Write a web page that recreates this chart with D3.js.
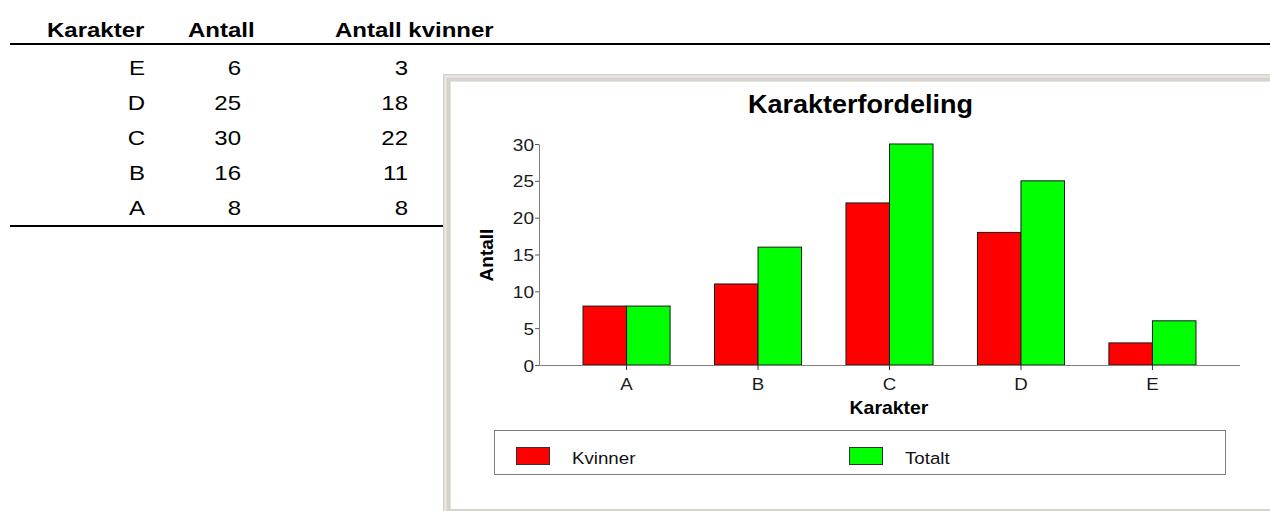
<!DOCTYPE html>
<html>
<head>
<meta charset="utf-8">
<script src="https://cdn.jsdelivr.net/npm/d3@7"></script>
<style>
  body { margin: 0; background: #fff; }
  text { font-family: Arial, "Liberation Sans", sans-serif; }
</style>
</head>
<body>
<div id="drawarea"></div>
<script>
// data
const grades = ["A", "B", "C", "D", "E"];
const totalt = [8, 16, 30, 25, 6];
const kvinner = [8, 11, 22, 18, 3];
const series = ["Kvinner", "Totalt"];
const seriesColors = ["#ff0000", "#00ff00"];
const yTicks = [0, 5, 10, 15, 20, 25, 30];
const tableHeaders = ["Karakter", "Antall", "Antall kvinner"];

let svg = d3.select("div#drawarea").append("svg")
    .attr("width", 1270)
    .attr("height", 511);

// the reference is a bit wider than normal Arial, so text gets a horizontal stretch
function putText(sel, x, y, sx) {
    return sel.attr("transform", "translate(" + x + "," + y + ") scale(" + sx + ",1)");
}

//---- table on the left
let table = svg.append("g");
let headerX = [47, 188, 335];
tableHeaders.forEach((h, i) => {
    putText(table.append("text"), headerX[i], 37, 1.2)
        .attr("font-size", 20)
        .attr("font-weight", "bold")
        .attr("fill", "#000")
        .text(h);
});
table.append("rect").attr("x", 10).attr("y", 43).attr("width", 1260).attr("height", 2).attr("fill", "#000");

let rowData = grades.map((g, i) => ({grade: g, antall: totalt[i], kv: kvinner[i]})).reverse();
let colRight = [145, 241, 408];
rowData.forEach((row, i) => {
    let yy = 74.5 + i * 35.2;
    [row.grade, row.antall, row.kv].forEach((v, j) => {
        putText(table.append("text"), colRight[j], yy, 1.2)
            .attr("font-size", 20)
            .attr("text-anchor", "end")
            .attr("fill", "#000")
            .text(v);
    });
});
table.append("rect").attr("x", 10).attr("y", 225).attr("width", 440).attr("height", 2).attr("fill", "#000");

//---- chart panel with a grey frame
let panel = svg.append("g");
panel.append("rect").attr("x", 443).attr("y", 74).attr("width", 840).attr("height", 450).attr("fill", "#d6d3cc");
panel.append("rect").attr("x", 445.5).attr("y", 76.5).attr("width", 840).attr("height", 450)
    .attr("fill", "none").attr("stroke", "#ebe9e4").attr("stroke-width", 2);
panel.append("rect").attr("x", 450).attr("y", 81).attr("width", 830).attr("height", 428).attr("fill", "#fff");
panel.append("line").attr("x1", 450).attr("x2", 1270).attr("y1", 81.5).attr("y2", 81.5).attr("stroke", "#e4e2dd");
panel.append("line").attr("x1", 450.5).attr("x2", 450.5).attr("y1", 81).attr("y2", 509).attr("stroke", "#e4e2dd");

// title
putText(panel.append("text"), 860.5, 113, 1.08)
    .attr("font-size", 25)
    .attr("font-weight", "bold")
    .attr("text-anchor", "middle")
    .text("Karakterfordeling");

// scales
let x = d3.scaleBand().domain(grades).range([539, 1240]).paddingInner(0).paddingOuter(0.166);
let x1 = d3.scaleBand().domain(series).range([0, x.bandwidth()]).paddingInner(0).paddingOuter(0.51);
let y = d3.scaleLinear().domain([0, 30]).range([365, 144]);

// bars
let barData = [];
grades.forEach((g, i) => {
    barData.push({grade: g, s: "Kvinner", v: kvinner[i]});
    barData.push({grade: g, s: "Totalt", v: totalt[i]});
});
svg.append("g").selectAll("rect")
    .data(barData)
    .join("rect")
    .attr("x", d => x(d.grade) + x1(d.s))
    .attr("y", d => y(d.v))
    .attr("width", x1.bandwidth())
    .attr("height", d => y(0) - y(d.v))
    .attr("fill", d => seriesColors[series.indexOf(d.s)])
    .attr("stroke", "#1a1a1a")
    .attr("stroke-width", 1);

// y axis
let yAxis = svg.append("g")
    .attr("transform", "translate(539,0)")
    .call(d3.axisLeft(y).tickValues(yTicks).tickSize(4).tickPadding(3).tickSizeOuter(0));
yAxis.select(".domain").attr("stroke", "#808080");
yAxis.selectAll(".tick line").attr("stroke", "#555");
yAxis.selectAll(".tick text")
    .attr("font-size", 17)
    .attr("font-family", "Arial, 'Liberation Sans', sans-serif")
    .attr("fill", "#1a1a1a")
    .attr("x", null)
    .attr("dy", "0.36em")
    .attr("transform", "translate(-5,0) scale(1.12,1)");

// x axis
let xAxis = svg.append("g")
    .attr("transform", "translate(0,365)")
    .call(d3.axisBottom(x).tickSize(5).tickSizeOuter(0));
xAxis.select(".domain").attr("stroke", "#808080").attr("d", "M539,0.5H1240");
xAxis.selectAll(".tick line").attr("stroke", "#333");
xAxis.selectAll(".tick text")
    .attr("font-size", 17)
    .attr("font-family", "Arial, 'Liberation Sans', sans-serif")
    .attr("fill", "#1a1a1a")
    .attr("y", null)
    .attr("dy", null)
    .attr("transform", "translate(0,25) scale(1.1,1)");

// axis titles
putText(svg.append("text"), 889, 414, 1.08)
    .attr("font-size", 18)
    .attr("font-weight", "bold")
    .attr("text-anchor", "middle")
    .text("Karakter");
svg.append("text")
    .attr("transform", "translate(493,255) rotate(-90)")
    .attr("font-size", 19)
    .attr("font-weight", "bold")
    .attr("text-anchor", "middle")
    .text("Antall");

// legend
let legend = svg.append("g");
legend.append("rect").attr("x", 494.5).attr("y", 430.5).attr("width", 731).attr("height", 44)
    .attr("fill", "#fff").attr("stroke", "#808080");
let legX = [516, 849];
series.forEach((s, i) => {
    legend.append("rect")
        .attr("x", legX[i] + 0.5).attr("y", 447.5)
        .attr("width", 33).attr("height", 17)
        .attr("fill", seriesColors[i])
        .attr("stroke", "#333");
    putText(legend.append("text"), legX[i] + 56, 464, 1.1)
        .attr("font-size", 17)
        .attr("fill", "#111")
        .text(s);
});
</script>
</body>
</html>
